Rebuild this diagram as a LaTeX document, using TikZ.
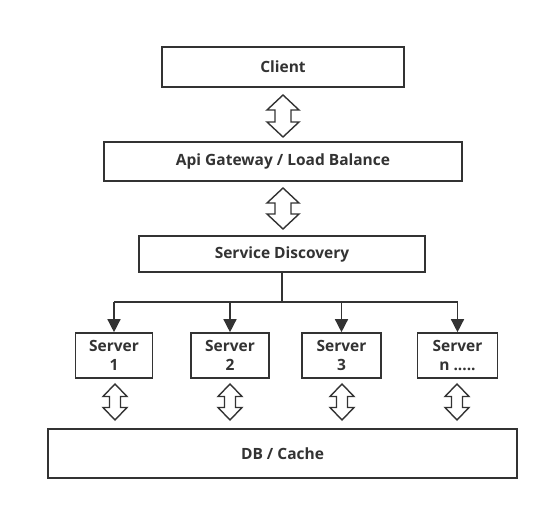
\documentclass[tikz,border=0pt]{standalone}
\usepackage{fontspec}
\setmainfont{Open Sans}
\usetikzlibrary{arrows.meta}
\definecolor{linec}{HTML}{333333}
\newcommand\dblarrow[6]{% x, ytop, ybot, head half, shaft half, head length
  \draw[dbl] (#1,#2) -- ++(#4,#6) -- (#1+#5,#2+#6) -- (#1+#5,#3-#6) -- (#1+#4,#3-#6)
    -- (#1,#3) -- (#1-#4,#3-#6) -- (#1-#5,#3-#6) -- (#1-#5,#2+#6) -- (#1-#4,#2+#6) -- cycle;}
\begin{document}
\begin{tikzpicture}[x=1pt,y=-1pt,
  box/.style={draw=linec, line width=1.6pt, fill=white, inner sep=0pt, align=center,
    font=\bfseries\fontsize{15.5}{19}\selectfont, text=linec},
  conn/.style={draw=linec, line width=1.4pt},
  arr/.style={conn, -{Triangle[length=13pt,width=13pt]}},
  dbl/.style={draw=linec, line width=1.4pt, fill=white, line join=miter}]
\useasboundingbox (0,0) rectangle (549,510);
\node[box, minimum width=242pt, minimum height=40pt] (client) at (283,67) {Client};
\node[box, minimum width=358pt, minimum height=39pt] (gw) at (283,161.5) {Api Gateway / Load Balance};
\node[box, minimum width=286pt, minimum height=36pt] (sd) at (282,254) {Service Discovery};
\node[box, minimum width=77pt, minimum height=45pt] (s1) at (114,355.5) {Server\\1};
\node[box, minimum width=78pt, minimum height=45pt] (s2) at (230,355.5) {Server\\2};
\node[box, minimum width=79pt, minimum height=45pt] (s3) at (341.5,355.5) {Server\\3};
\node[box, minimum width=80pt, minimum height=45pt] (s4) at (457.5,355.5) {Server\\n .....};
\node[box, minimum width=469pt, minimum height=49pt] (db) at (282.5,453.5) {DB / Cache};
\coordinate (bus) at (282,302);
\draw[conn] (sd.south) -- (bus);
\draw[conn] (s1.north |- bus) -- (s4.north |- bus);
\foreach \s in {s1,s2,s3,s4} \draw[arr] (\s.north |- bus) -- (\s.north);
\dblarrow{283}{95}{137}{16}{8}{15}
\dblarrow{283}{188}{229}{16}{8}{15}
\dblarrow{115}{384}{420}{12}{5.5}{12.5}
\dblarrow{230}{384}{420}{12}{5.5}{12.5}
\dblarrow{342}{384}{420}{12}{5.5}{12.5}
\dblarrow{457}{384}{420}{12}{5.5}{12.5}
\end{tikzpicture}
\end{document}
